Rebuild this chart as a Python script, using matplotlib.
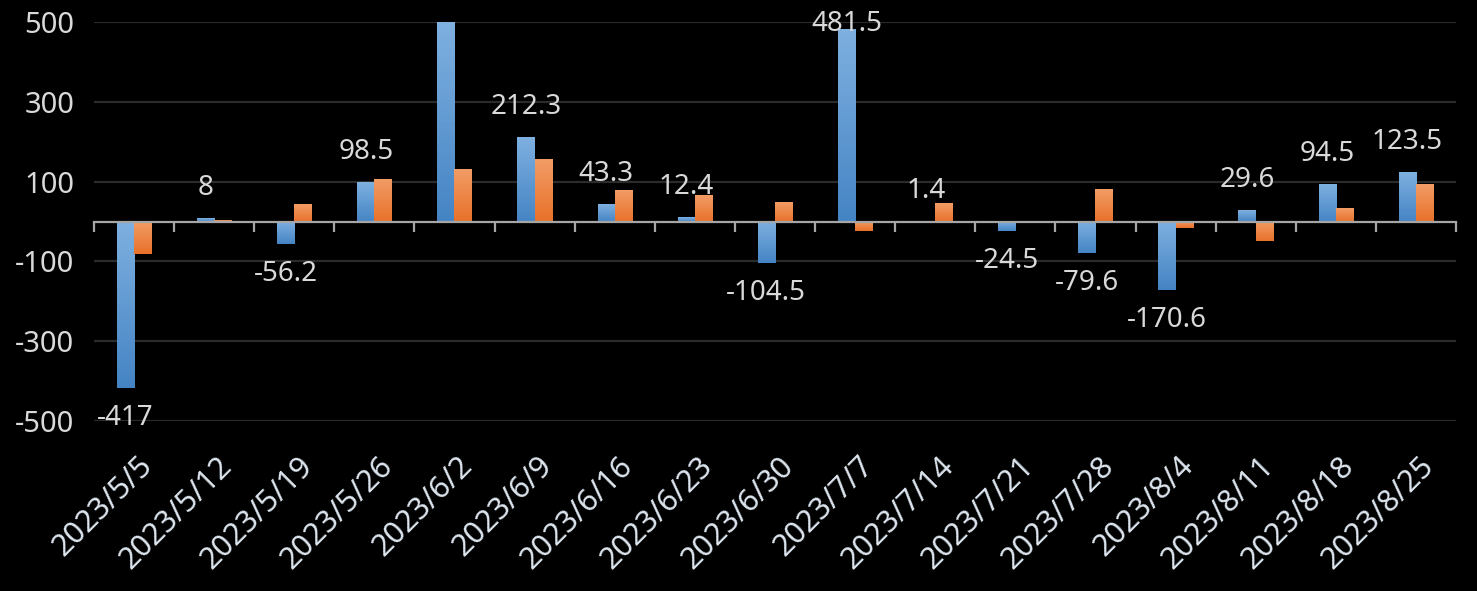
import numpy as np
import matplotlib.pyplot as plt
from matplotlib.colors import LinearSegmentedColormap
from matplotlib.transforms import blended_transform_factory

dates = ['2023/5/5', '2023/5/12', '2023/5/19', '2023/5/26', '2023/6/2', '2023/6/9',
         '2023/6/16', '2023/6/23', '2023/6/30', '2023/7/7', '2023/7/14', '2023/7/21',
         '2023/7/28', '2023/8/4', '2023/8/11', '2023/8/18', '2023/8/25']
# blue series (labelled); 6/2 runs off the top of the axis
blue = [-417, 8, -56.2, 98.5, 560, 212.3, 43.3, 12.4, -104.5, 481.5, 1.4, -24.5,
        -79.6, -170.6, 29.6, 94.5, 123.5]
# orange series
orange = [-81, 5, 44, 107, 132, 157, 79, 66, 49, -25, 47, -4, 82, -16, -48, 34, 94]

yticks = [-500, -300, -100, 100, 300, 500]

plt.rcParams['font.family'] = ['Noto Sans', 'DejaVu Sans']
plt.rcParams['axes.unicode_minus'] = False
txt = '#d9d9d9'

fig = plt.figure(figsize=(14.77, 5.91), dpi=100, facecolor='black')
ax = fig.add_axes([0.0636, 0.2876, 0.9222, 0.6752], facecolor='black')

x = np.arange(len(dates))
w = 0.215
b1 = ax.bar(x - w / 2, blue, w, color='#5b9bd5')
b2 = ax.bar(x + w / 2, orange, w, color='#ed7d31')

# light-to-dark vertical gradient inside each bar
cmap_b = LinearSegmentedColormap.from_list('b', ['#7eb0e0', '#4584c4'])
cmap_o = LinearSegmentedColormap.from_list('o', ['#f29c66', '#e8712a'])
grad = np.linspace(0, 1, 64).reshape(-1, 1)
for bars, cm in ((b1, cmap_b), (b2, cmap_o)):
    for p in bars:
        x0, y0 = p.get_x(), p.get_y()
        x1, y1 = x0 + p.get_width(), y0 + p.get_height()
        lo, hi = min(y0, y1), min(max(y0, y1), 500)
        im = ax.imshow(grad, cmap=cm, aspect='auto', extent=(x0, x1, lo, hi),
                       origin='upper', zorder=2)
        im.set_clip_path(p)
        p.set_facecolor('none')

ax.set_xlim(-0.5, len(dates) - 0.5)
ax.set_ylim(-500, 500)
ax.set_yticks(yticks)
ax.yaxis.grid(True, color='#2b2b2b', linewidth=1.6)
ax.set_axisbelow(True)
ax.tick_params(axis='y', length=0, pad=14, labelsize=21, labelcolor=txt)

for s in ['top', 'right', 'left']:
    ax.spines[s].set_visible(False)
ax.spines['bottom'].set_position(('data', 0))
ax.spines['bottom'].set_color('#a6a6a6')
ax.spines['bottom'].set_linewidth(1.6)
ax.spines['bottom'].set_zorder(3)
ax.set_xticks(x)
ax.set_xticklabels([])
ax.tick_params(axis='x', which='major', length=0)
ax.set_xticks(np.arange(len(dates) + 1) - 0.5, minor=True)
ax.tick_params(axis='x', which='minor', length=7.5, width=1.6, color='#a6a6a6',
               direction='out')

trans = blended_transform_factory(ax.transData, ax.transAxes)
for i, d in enumerate(dates):
    ax.text(i + 0.04, -0.075, d, transform=trans, rotation=45, ha='right', va='top',
            rotation_mode='anchor', fontsize=22, color='#dde5ee')

for i, v in enumerate(blue):
    if v > 500:
        continue
    ly = v + 75 if v >= 0 else v - 75
    ax.text(i - w / 2, min(ly, 495), f'{v:g}', ha='center', va='center',
            fontsize=20, color=txt)

fig.savefig('out.png', dpi=100, facecolor='black')
